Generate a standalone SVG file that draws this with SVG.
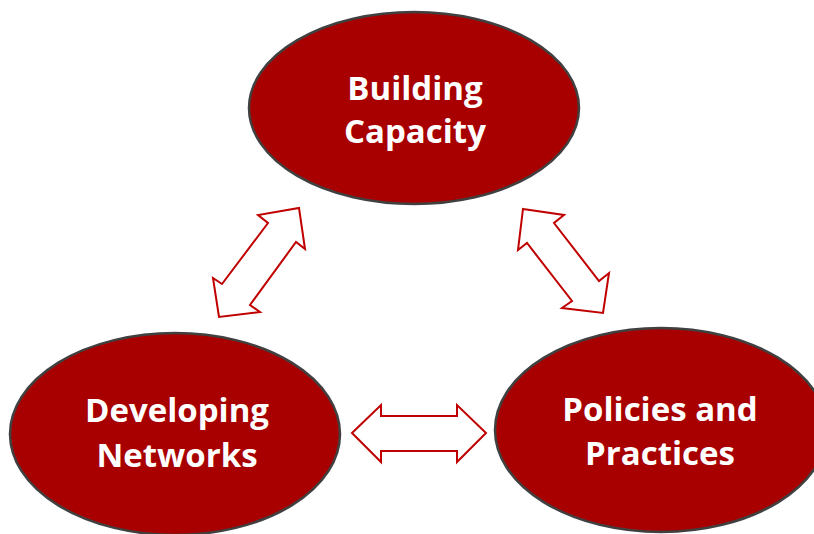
<svg xmlns="http://www.w3.org/2000/svg" width="814" height="534" viewBox="0 0 814 534">
<style>
.node{fill:#a80000;stroke:#404040;stroke-width:2.5}
.lbl{fill:#ffffff;font-family:"Open Sans","Liberation Sans",sans-serif;font-weight:bold;font-size:33px;text-anchor:middle}
.arr{fill:#ffffff;stroke:#c00000;stroke-width:2;stroke-linejoin:miter}
</style>
<rect width="814" height="534" fill="#ffffff"/>
<g id="building-capacity">
<ellipse class="node" cx="414" cy="108" rx="165" ry="96"/>
<text class="lbl" x="415" y="100">Building</text>
<text class="lbl" x="415" y="143">Capacity</text>
</g>
<g id="developing-networks">
<ellipse class="node" cx="175" cy="434" rx="165" ry="101"/>
<text class="lbl" x="177" y="422">Developing</text>
<text class="lbl" x="177" y="467">Networks</text>
</g>
<g id="policies-practices">
<ellipse class="node" cx="661" cy="430" rx="166" ry="102"/>
<text class="lbl" x="660" y="421">Policies and</text>
<text class="lbl" x="660" y="465">Practices</text>
</g>
<g id="connectors">
<polygon class="arr" points="299,208 305,249 296,242 250,305 260,312 219,317 213,278 222,284 268,223 258,215"/>
<polygon class="arr" points="523,209 564,215 554,223 599,281 609,273 603,313 562,308 572,301 527,243 518,250"/>
<polygon class="arr" points="352,433 381,405 381,416 457,416 457,405 486,433 457,462 457,451 381,451 381,462"/>
</g>
</svg>
